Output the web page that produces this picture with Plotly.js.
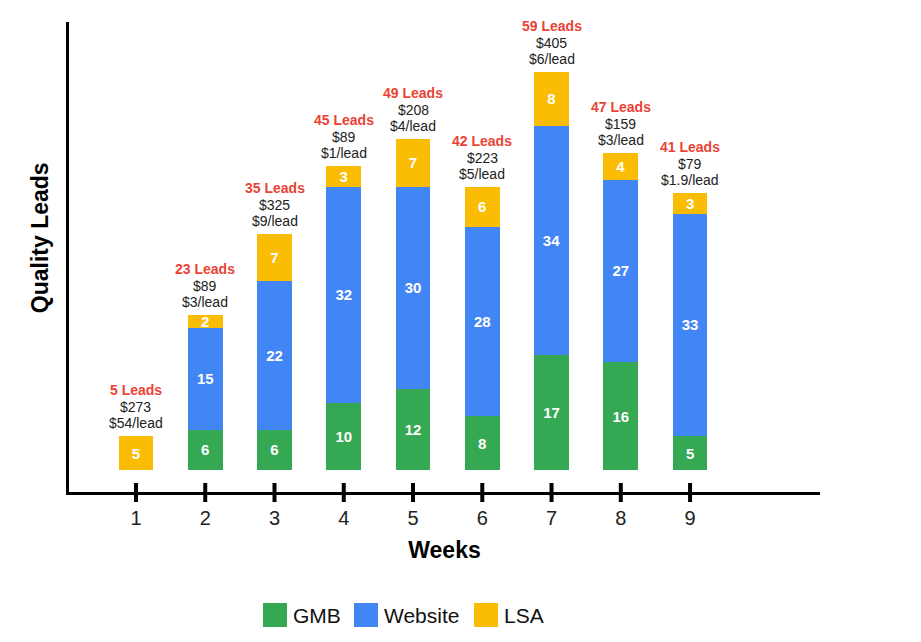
<!DOCTYPE html>
<html>
<head>
<meta charset="utf-8">
<script src="https://cdn.plot.ly/plotly-3.0.1.min.js"></script>
<style>html,body{margin:0;padding:0;background:#fff;}#chart{width:921px;height:642px;}</style>
</head>
<body>
<div id="chart"></div>
<script>
const weeks = [1, 2, 3, 4, 5, 6, 7, 8, 9];
const gmb = [0, 6, 6, 10, 12, 8, 17, 16, 5];
const website = [0, 15, 22, 32, 30, 28, 34, 27, 33];
const lsa = [5, 2, 7, 3, 7, 6, 8, 4, 3];
const totals = [5, 23, 35, 45, 49, 42, 59, 47, 41];
const cost = ["$273", "$89", "$325", "$89", "$208", "$223", "$405", "$159", "$79"];
const perLead = ["$54/lead", "$3/lead", "$9/lead", "$1/lead", "$4/lead", "$5/lead", "$6/lead", "$3/lead", "$1.9/lead"];
const seriesNames = ["GMB", "Website", "LSA"];
const seriesColors = ["#34a853", "#4285f4", "#fbbc04"];

const FONT = '"Liberation Sans", Arial, Helvetica, sans-serif';
const seriesValues = [gmb, website, lsa];

const traces = seriesValues.map((vals, i) => ({
  type: 'bar',
  name: seriesNames[i],
  x: weeks,
  y: vals,
  width: 0.5,
  marker: {color: seriesColors[i], line: {width: 0}},
  text: vals.map(v => v > 0 ? '<b>' + v + '</b>' : ''),
  textposition: 'inside',
  insidetextanchor: 'middle',
  constraintext: 'none',
  textangle: 0,
  textfont: {family: FONT, size: 15, color: '#ffffff'},
  showlegend: false,
  hoverinfo: 'x+y+name'
}));

const annotations = [];
weeks.forEach((w, i) => {
  annotations.push({x: w, y: totals[i], xref: 'x', yref: 'y', text: '<b>' + totals[i] + ' Leads</b>',
    showarrow: false, yanchor: 'middle', yshift: 46, font: {family: FONT, size: 14, color: '#ea4335'}});
  annotations.push({x: w, y: totals[i], xref: 'x', yref: 'y', text: cost[i],
    showarrow: false, yanchor: 'middle', yshift: 29, font: {family: FONT, size: 14, color: '#222222'}});
  annotations.push({x: w, y: totals[i], xref: 'x', yref: 'y', text: perLead[i],
    showarrow: false, yanchor: 'middle', yshift: 13, font: {family: FONT, size: 14, color: '#222222'}});
});

// y axis title
annotations.push({x: -0.0386, y: 0.54, xref: 'paper', yref: 'paper', text: '<b>Quality Leads</b>',
  textangle: -90, showarrow: false, xanchor: 'center', yanchor: 'middle',
  font: {family: FONT, size: 23, color: '#000000'}});

// manual legend
const legendSquareX = [263, 354, 474];
const legendTextX = [291, 382, 502];
const px2x = p => (p - 69) / 751;
const py2y = p => (492 - p) / 470;
const shapes = [];
seriesNames.forEach((n, i) => {
  shapes.push({type: 'rect', xref: 'paper', yref: 'paper',
    x0: px2x(legendSquareX[i]), x1: px2x(legendSquareX[i] + 24),
    y0: py2y(627), y1: py2y(603),
    fillcolor: seriesColors[i], line: {width: 0}});
  annotations.push({x: px2x(legendTextX[i]), y: py2y(615), xref: 'paper', yref: 'paper',
    text: n, showarrow: false, xanchor: 'left', yanchor: 'middle',
    font: {family: FONT, size: 21, color: '#111111'}});
});

// tick marks crossing x axis
weeks.forEach(w => {
  shapes.push({type: 'line', xref: 'x', yref: 'paper', x0: w, x1: w,
    y0: py2y(502), y1: py2y(483), line: {color: '#000000', width: 4}});
});

const layout = {
  width: 921, height: 642,
  margin: {l: 69, r: 101, t: 22, b: 150},
  paper_bgcolor: '#ffffff', plot_bgcolor: '#ffffff',
  barmode: 'stack',
  showlegend: false,
  font: {family: FONT},
  xaxis: {
    range: [0.033, 10.876],
    tickvals: weeks,
    ticktext: weeks.map(String),
    ticks: '',
    ticklabelstandoff: 6,
    tickfont: {family: FONT, size: 20, color: '#222222'},
    showgrid: false, zeroline: false,
    showline: true, linecolor: '#000000', linewidth: 3,
    title: {text: '<b>Weeks</b>', font: {family: FONT, size: 23, color: '#000000'}, standoff: 14}
  },
  yaxis: {
    range: [-3.26, 66.37],
    showticklabels: false, ticks: '',
    showgrid: false, zeroline: false,
    showline: true, linecolor: '#000000', linewidth: 3
  },
  annotations: annotations,
  shapes: shapes
};

Plotly.newPlot('chart', traces, layout, {displayModeBar: false, staticPlot: true});
</script>
</body>
</html>
